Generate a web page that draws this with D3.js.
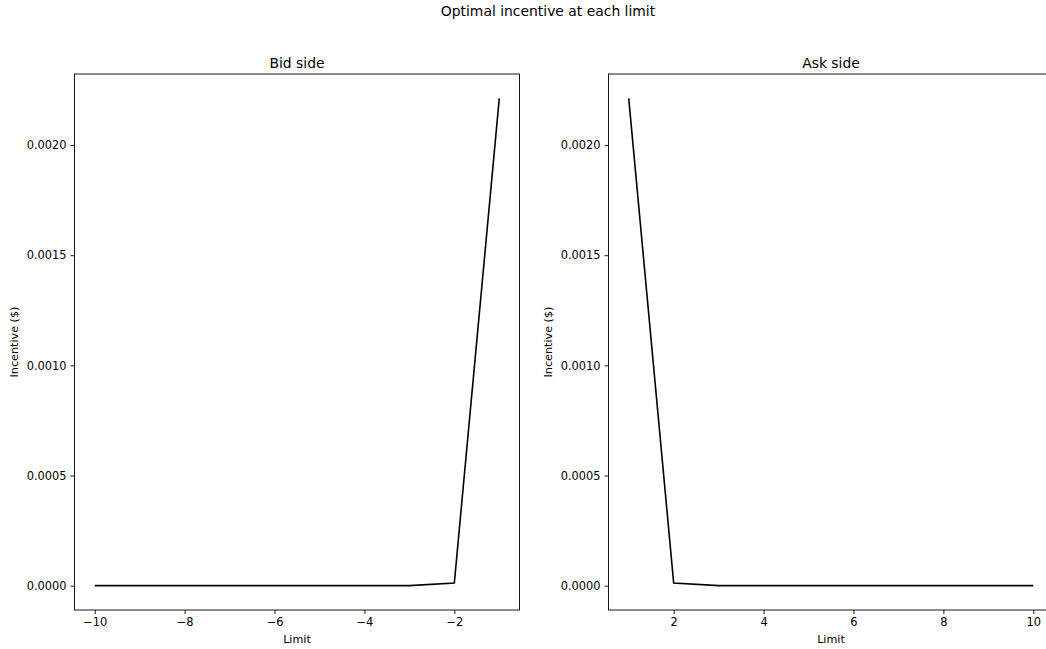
<!DOCTYPE html>
<html><head><meta charset="utf-8">
<script src="https://cdn.jsdelivr.net/npm/d3@7"></script>
<style>body{margin:0;background:#fff;} text{font-family:"DejaVu Sans",sans-serif;fill:#000;}</style>
</head><body>
<svg id="c" width="1046" height="649"></svg>
<script>
const bidLimits = [-10,-9,-8,-7,-6,-5,-4,-3,-2,-1];
const bidValues = [0,0,0,0,0,0,0,0,0.000012,0.002212];
const askLimits = [1,2,3,4,5,6,7,8,9,10];
const askValues = [0.002212,0.000012,0,0,0,0,0,0,0,0];
const bidTicks = [-10,-8,-6,-4,-2];
const askTicks = [2,4,6,8,10];
const yTicks = [0,0.0005,0.0010,0.0015,0.0020];
const titles = ["Bid side","Ask side"];

const svg = d3.select("#c");
svg.append("text").attr("x",548).attr("y",16).attr("text-anchor","middle").style("font-size","13.9px").text("Optimal incentive at each limit");

const fmtMinus = d => String(d).replace("-","\u2212");
function panel(x0,x1,limits,values,ticks,title){
  const top=74,bottom=610;
  const xmin=d3.min(limits), xmax=d3.max(limits), xm=(xmax-xmin)*0.05;
  const ymax=d3.max(values), ymin=0, ym=(ymax-ymin)*0.05;
  const x=d3.scaleLinear().domain([xmin-xm,xmax+xm]).range([x0,x1]);
  const y=d3.scaleLinear().domain([ymin-ym,ymax+ym]).range([bottom,top]);
  const g=svg.append("g");
  const xa=g.append("g").attr("transform",`translate(0,${bottom})`).call(d3.axisBottom(x).tickValues(ticks).tickSize(4).tickPadding(4).tickFormat(fmtMinus));
  const ya=g.append("g").attr("transform",`translate(${x0},0)`).call(d3.axisLeft(y).tickValues(yTicks).tickSize(4).tickPadding(4).tickFormat(d3.format(".4f")));
  [xa,ya].forEach(a=>{a.select(".domain").remove();a.selectAll("line").attr("stroke","#000").attr("stroke-width",0.9);a.selectAll("text").style("font-size","11.4px").attr("fill","#000");});
  g.append("path").datum(limits.map((l,i)=>[l,values[i]])).attr("fill","none").attr("stroke","#000").attr("stroke-width",1.6)
    .attr("d",d3.line().x(d=>x(d[0])).y(d=>y(d[1])));
  g.append("rect").attr("x",x0).attr("y",top).attr("width",x1-x0).attr("height",bottom-top).attr("fill","none").attr("stroke","#000").attr("stroke-width",0.9);
  g.append("text").attr("x",(x0+x1)/2).attr("y",top-6).attr("text-anchor","middle").style("font-size","13.9px").text(title);
  g.append("text").attr("x",(x0+x1)/2).attr("y",643).attr("text-anchor","middle").style("font-size","11.2px").text("Limit");
  g.append("text").attr("transform",`translate(${x0-57},${(top+bottom)/2}) rotate(-90)`).attr("text-anchor","middle").style("font-size","11.2px").text("Incentive ($)");
}
panel(74.5,519.5,bidLimits,bidValues,bidTicks,titles[0]);
panel(608.5,1053.5,askLimits,askValues,askTicks,titles[1]);
</script>
</body></html>
